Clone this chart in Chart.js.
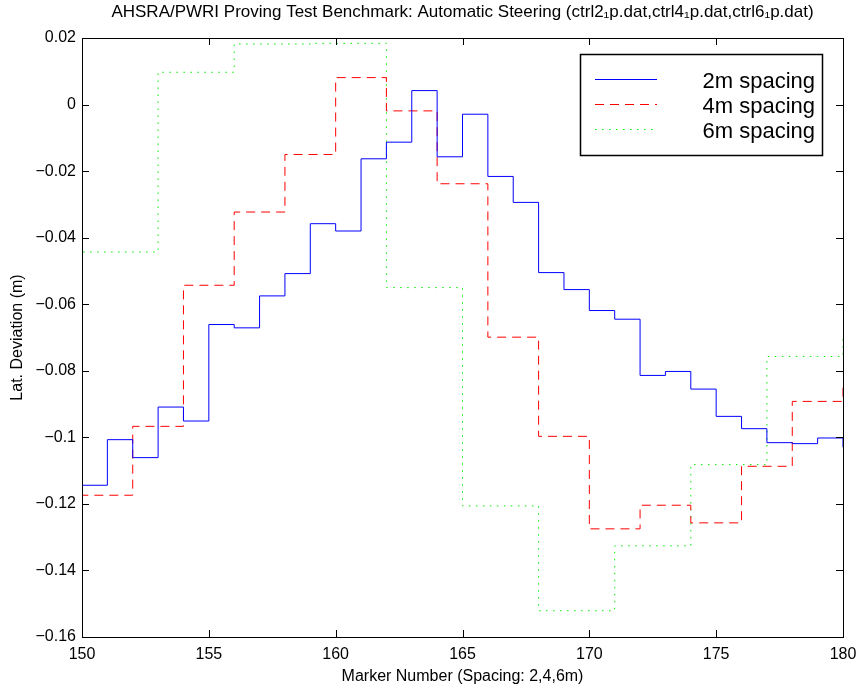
<!DOCTYPE html>
<html lang="en">
<head>
<meta charset="UTF-8">
<title>AHSRA/PWRI Proving Test Benchmark</title>
<script src="https://cdn.jsdelivr.net/npm/chart.js"></script>
<style>
    html, body { margin: 0; padding: 0; background: #fff; }
</style>
</head>
<body>
<canvas id="myChart" width="860" height="688"></canvas>

<script>
    // marker numbers where each step starts (first / last points sit just outside the axes)
    var marker2 = [149, 150, 151, 152, 153, 154, 155, 156, 157, 158, 159, 160, 161, 162, 163, 164,
                   165, 166, 167, 168, 169, 170, 171, 172, 173, 174, 175, 176, 177, 178, 179, 180];
    var dev2 = [-0.105, -0.1144, -0.1007, -0.1061, -0.0909, -0.0951, -0.0661, -0.0671, -0.0575, -0.0508,
                -0.0358, -0.0380, -0.0163, -0.0113, 0.0042, -0.0157, -0.0029, -0.0216, -0.0294, -0.0505,
                -0.0556, -0.0619, -0.0645, -0.0814, -0.0802, -0.0855, -0.0937, -0.0974, -0.1016, -0.1019,
                -0.1002, -0.103];

    var marker4 = [148, 150, 152, 154, 156, 158, 160, 162, 164, 166, 168, 170, 172, 174, 176, 178, 180];
    var dev4 = [-0.13, -0.1174, -0.0967, -0.0543, -0.0323, -0.0150, 0.0081, -0.0019, -0.0238,
                -0.0699, -0.0997, -0.1275, -0.1204, -0.1257, -0.1087, -0.0892, -0.085];

    var marker6 = [147, 150, 153, 156, 159, 162, 165, 168, 171, 174, 177, 180];
    var dev6 = [-0.080, -0.0443, 0.0097, 0.0182, 0.0184, -0.0550, -0.1206, -0.1521, -0.1326,
                -0.1082, -0.0757, -0.070];

    var seriesNames = ['2m spacing', '4m spacing', '6m spacing'];
    var xTicks = [150, 155, 160, 165, 170, 175, 180];
    var yTicks = [-0.16, -0.14, -0.12, -0.1, -0.08, -0.06, -0.04, -0.02, 0, 0.02];

    var FONT = "'Liberation Sans', Arial, Helvetica, sans-serif";

    function toPoints(xs, ys) {
        return xs.map(function (x, i) { return { x: x, y: ys[i] }; });
    }

    // matlab-style box with ticks pointing inwards on all four sides, plus the boxed legend
    var matlabFrame = {
        id: 'matlabFrame',
        afterDatasetsDraw: function (chart) {
            var ctx = chart.ctx;
            var a = chart.chartArea;
            var xs = chart.scales.x, ys = chart.scales.y;
            var tl = 7;
            ctx.save();
            ctx.strokeStyle = '#000';
            ctx.lineWidth = 1;
            ctx.beginPath();
            xTicks.forEach(function (v) {
                var px = Math.round(xs.getPixelForValue(v)) + 0.5;
                ctx.moveTo(px, a.bottom); ctx.lineTo(px, a.bottom - tl);
                ctx.moveTo(px, a.top); ctx.lineTo(px, a.top + tl);
            });
            yTicks.forEach(function (v) {
                var py = Math.round(ys.getPixelForValue(v)) + 0.5;
                ctx.moveTo(a.left, py); ctx.lineTo(a.left + tl, py);
                ctx.moveTo(a.right, py); ctx.lineTo(a.right - tl, py);
            });
            ctx.stroke();
            ctx.strokeRect(Math.round(a.left) + 0.5, Math.round(a.top) + 0.5,
                           Math.round(a.right - a.left), Math.round(a.bottom - a.top));

            // legend
            var box = { left: 580, top: 54, right: 822, bottom: 155 };
            ctx.fillStyle = '#fff';
            ctx.fillRect(box.left, box.top, box.right - box.left, box.bottom - box.top);
            ctx.lineWidth = 1.5;
            ctx.strokeRect(box.left + 0.5, box.top + 0.5, box.right - box.left, box.bottom - box.top);
            ctx.font = '22px ' + FONT;
            ctx.textAlign = 'right';
            ctx.textBaseline = 'middle';
            chart.data.datasets.forEach(function (ds, i) {
                var y = 79.5 + i * 25;
                ctx.strokeStyle = ds.borderColor;
                ctx.lineWidth = 1;
                ctx.setLineDash(ds.borderDash || []);
                ctx.beginPath();
                ctx.moveTo(595, y); ctx.lineTo(657, y);
                ctx.stroke();
                ctx.setLineDash([]);
                ctx.fillStyle = '#000';
                ctx.fillText(ds.label, 815, y + 2);
            });
            ctx.restore();
        }
    };

    var ctx = document.getElementById('myChart').getContext('2d');
    var chart = new Chart(ctx, {
        type: 'line',
        data: {
            datasets: [{
                label: seriesNames[0],
                data: toPoints(marker2, dev2),
                borderColor: '#0000ff',
                borderWidth: 1,
                stepped: true
            }, {
                label: seriesNames[1],
                data: toPoints(marker4, dev4),
                borderColor: '#ff0000',
                borderWidth: 1,
                borderDash: [9, 6],
                stepped: true
            }, {
                label: seriesNames[2],
                data: toPoints(marker6, dev6),
                borderColor: '#00ee00',
                borderWidth: 1,
                borderDash: [1.5, 5.5],
                stepped: true
            }]
        },
        options: {
            responsive: false,
            animation: false,
            elements: { point: { radius: 0 } },
            layout: { padding: { top: 0, right: 17, bottom: 0, left: 0 } },
            scales: {
                x: {
                    type: 'linear',
                    min: 150,
                    max: 180,
                    afterFit: function (s) { s.height = 51; s.paddingLeft = 0; s.paddingRight = 0; },
                    afterBuildTicks: function (s) { s.ticks = xTicks.map(function (v) { return { value: v }; }); },
                    ticks: {
                        color: '#000',
                        padding: 8,
                        maxRotation: 0,
                        font: { family: FONT, size: 16 }
                    },
                    grid: { display: false, drawTicks: false },
                    border: { display: true, color: '#000' },
                    title: {
                        display: true,
                        text: 'Marker Number (Spacing: 2,4,6m)',
                        color: '#000',
                        font: { family: FONT, size: 16 },
                        padding: { top: 0, bottom: 2 }
                    }
                },
                y: {
                    min: -0.16,
                    max: 0.02,
                    afterFit: function (s) { s.width = 82; s.paddingTop = 0; s.paddingBottom = 0; },
                    afterBuildTicks: function (s) { s.ticks = yTicks.map(function (v) { return { value: v }; }); },
                    ticks: {
                        color: '#000',
                        padding: 6,
                        font: { family: FONT, size: 16 },
                        callback: function (value) {
                            if (Math.abs(value) < 1e-9) return '0';
                            return parseFloat(value.toFixed(2)).toString().replace('-', '\u2212');
                        }
                    },
                    grid: { display: false, drawTicks: false },
                    border: { display: true, color: '#000' },
                    title: {
                        display: true,
                        text: 'Lat. Deviation (m)',
                        color: '#000',
                        font: { family: FONT, size: 16 },
                        padding: { top: 8, bottom: 0 }
                    }
                }
            },
            plugins: {
                legend: { display: false },
                tooltip: { enabled: false },
                title: {
                    display: true,
                    fullSize: false,
                    text: 'AHSRA/PWRI Proving Test Benchmark: Automatic Steering (ctrl2\u2081p.dat,ctrl4\u2081p.dat,ctrl6\u2081p.dat)',
                    color: '#000',
                    font: { family: FONT, size: 17, weight: 'normal', lineHeight: 1.2 },
                    padding: { top: 2, bottom: 15.6 }
                }
            }
        },
        plugins: [matlabFrame]
    });
</script>
</body>
</html>
